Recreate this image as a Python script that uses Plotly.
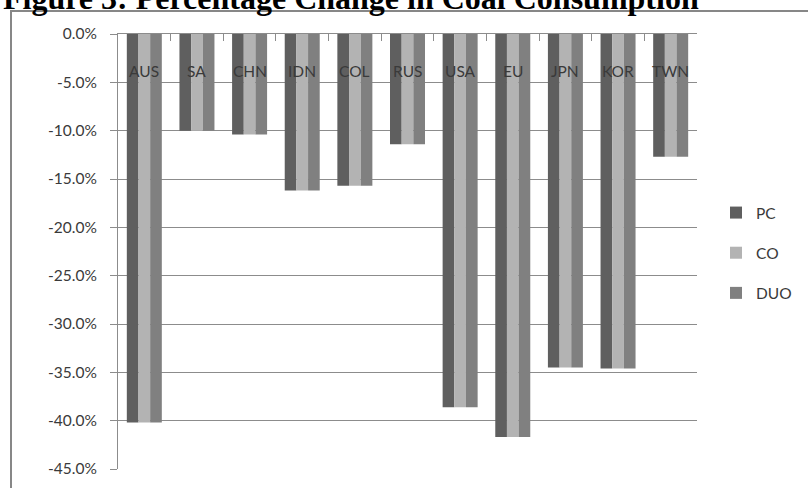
import plotly.graph_objects as go

# Country / region groups
categories = ["AUS", "SA", "CHN", "IDN", "COL", "RUS", "USA", "EU", "JPN", "KOR", "TWN"]

# Percentage change in coal consumption under each scenario (%)
pc = [-40.2, -10.0, -10.4, -16.2, -15.7, -11.4, -38.6, -41.7, -34.5, -34.6, -12.7]
co = [-40.2, -10.0, -10.4, -16.2, -15.7, -11.4, -38.6, -41.7, -34.5, -34.6, -12.7]
duo = [-40.2, -10.0, -10.4, -16.2, -15.7, -11.4, -38.6, -41.7, -34.5, -34.6, -12.7]

series_names = ["PC", "CO", "DUO"]
series_values = [pc, co, duo]
series_colors = ["#5f5f5f", "#b3b3b3", "#808080"]

y_ticks = [0, -5, -10, -15, -20, -25, -30, -35, -40, -45]
y_tick_labels = ["0.0%", "-5.0%", "-10.0%", "-15.0%", "-20.0%",
                 "-25.0%", "-30.0%", "-35.0%", "-40.0%", "-45.0%"]

W, H = 808, 488
L, R, T, B = 118, 111, 34, 19
plot_w = W - L - R
plot_h = H - T - B


def px_x(p):
    return (p - L) / plot_w


def px_y(p):
    return (H - B - p) / plot_h


fig = go.Figure()
xs = list(range(len(categories)))
for name, vals, col in zip(series_names, series_values, series_colors):
    fig.add_trace(go.Bar(
        x=xs, y=vals, name=name, legendgroup=name,
        marker=dict(color=col, line=dict(width=0)),
        hoverinfo="skip",
    ))

axis_font = dict(family="Lato, Open Sans, sans-serif", size=15.5, color="#3a3a3a")

fig.update_layout(
    width=W, height=H,
    margin=dict(l=L, r=R, t=T, b=B, pad=0),
    paper_bgcolor="white", plot_bgcolor="white",
    barmode="group", bargap=0.335, bargroupgap=0,
    showlegend=True,
    legend=dict(
        xref="container", yref="container",
        x=716 / W, y=1 - 196 / H, xanchor="left", yanchor="top",
        font=axis_font, tracegroupgap=17, itemwidth=30,
        bgcolor="rgba(0,0,0,0)",
    ),
    xaxis=dict(
        range=[-0.5, len(categories) - 0.5],
        side="top", showticklabels=False,
        tickmode="array", tickvals=[i - 0.5 for i in range(len(categories) + 1)],
        ticks="inside", ticklen=7, tickcolor="#8c8c8c", tickwidth=1,
        showline=True, linecolor="#8c8c8c", linewidth=1,
        showgrid=False, zeroline=False, fixedrange=True,
    ),
    yaxis=dict(
        range=[-45, 0],
        tickmode="array", tickvals=y_ticks, ticktext=y_tick_labels,
        ticks="outside", ticklen=7, tickcolor="#8c8c8c", tickwidth=1,
        tickfont=axis_font, ticklabelstandoff=10,
        showline=True, linecolor="#8c8c8c", linewidth=1,
        showgrid=True, gridcolor="#8c8c8c", gridwidth=1,
        zeroline=False, fixedrange=True,
    ),
)

# Category names sit under the category axis at the top
for i, cat in enumerate(categories):
    fig.add_annotation(
        x=i, xref="x", y=1, yref="paper", yanchor="top",
        yshift=-26, text=cat, showarrow=False, font=axis_font,
    )

# Outer chart frame (only top and left edges fall inside the page)
fig.add_shape(
    type="rect", xref="paper", yref="paper",
    x0=px_x(11), x1=px_x(W + 10), y0=px_y(H + 10), y1=px_y(11),
    line=dict(color="#878787", width=2), fillcolor="rgba(0,0,0,0)",
    layer="below",
)

# Figure caption, partly above the top of the page
fig.add_annotation(
    xref="paper", yref="paper", x=px_x(1), xanchor="left",
    y=px_y(-2), yanchor="middle",
    text="<b>Figure 3: Percentage Change in Coal Consumption</b>",
    showarrow=False,
    font=dict(family="Liberation Serif, Times New Roman, serif", size=32, color="black"),
)

fig.write_html("out.html")
